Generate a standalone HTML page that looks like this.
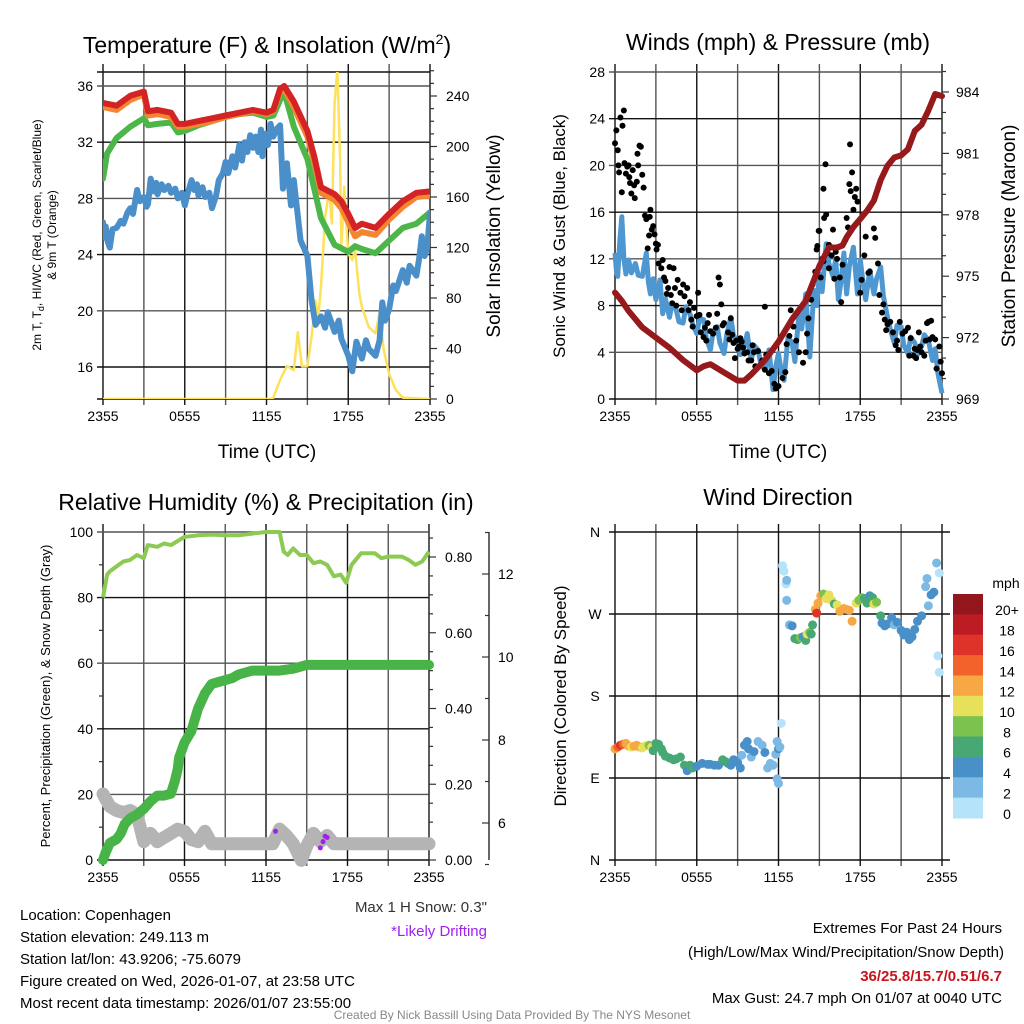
<!DOCTYPE html>
<html><head><meta charset="utf-8">
<style>
html,body{margin:0;padding:0;background:#fff;}
svg{display:block;font-family:"Liberation Sans",sans-serif;}
</style></head>
<body>
<svg id="c" width="1024" height="1024" viewBox="0 0 1024 1024" xmlns="http://www.w3.org/2000/svg">
<g font-size="23" text-anchor="middle" fill="#000">
<text x="267" y="53">Temperature (F) &amp; Insolation (W/m<tspan font-size="14" dy="-9">2</tspan><tspan dy="9">)</tspan></text>
<text x="778" y="50">Winds (mph) &amp; Pressure (mb)</text>
<text x="266" y="510">Relative Humidity (%) &amp; Precipitation (in)</text>
<text x="778" y="505">Wind Direction</text>
</g>
<g fill="#000">
<text x="267" y="458" font-size="19" text-anchor="middle">Time (UTC)</text>
<text x="778" y="458" font-size="19" text-anchor="middle">Time (UTC)</text>
<text transform="translate(41,235) rotate(-90)" font-size="12" text-anchor="middle">2m T, T<tspan font-size="9" dy="3">d</tspan><tspan dy="-3">, HI/WC (Red, Green, Scarlet/Blue)</tspan></text>
<text transform="translate(56,235) rotate(-90)" font-size="12" text-anchor="middle">&amp; 9m T (Orange)</text>
<text transform="translate(500,236) rotate(-90)" font-size="19" text-anchor="middle">Solar Insolation (Yellow)</text>
<text transform="translate(565,236) rotate(-90)" font-size="17" text-anchor="middle">Sonic Wind &amp; Gust (Blue, Black)</text>
<text transform="translate(1015,236) rotate(-90)" font-size="19" text-anchor="middle">Station Pressure (Maroon)</text>
<text transform="translate(50,696) rotate(-90)" font-size="13" text-anchor="middle">Percent, Precipitation (Green), &amp; Snow Depth (Gray)</text>
<text transform="translate(566,696) rotate(-90)" font-size="17" text-anchor="middle">Direction (Colored By Speed)</text>
</g>
<g font-size="15" fill="#000">
<text x="20" y="920">Location: Copenhagen</text>
<text x="20" y="942">Station elevation: 249.113 m</text>
<text x="20" y="964">Station lat/lon: 43.9206; -75.6079</text>
<text x="20" y="986">Figure created on Wed, 2026-01-07, at 23:58 UTC</text>
<text x="20" y="1008">Most recent data timestamp: 2026/01/07 23:55:00</text>
<text x="487" y="912" text-anchor="end" fill="#333">Max 1 H Snow: 0.3"</text>
<text x="487" y="936" text-anchor="end" fill="#a020f0">*Likely Drifting</text>
<text x="1002" y="933" text-anchor="end">Extremes For Past 24 Hours</text>
<text x="1004" y="957" text-anchor="end">(High/Low/Max Wind/Precipitation/Snow Depth)</text>
<text x="1002" y="981" text-anchor="end" fill="#c8141e" font-weight="bold">36/25.8/15.7/0.51/6.7</text>
<text x="1002" y="1003" text-anchor="end">Max Gust: 24.7 mph On 01/07 at 0040 UTC</text>
<text x="512" y="1019" text-anchor="middle" font-size="12" fill="#888">Created By Nick Bassill Using Data Provided By The NYS Mesonet</text>
</g>
</svg>
<script>
// ---------- DATA ----------
const xTickLabels = ["2355","0555","1155","1755","2355"];
// Panel 1: [hour, value]
const tempRed = [[0,34.8],[1,34.6],[2,35.3],[3,35.6],[3.3,34.2],[4,34.3],[5,34.1],[5.5,33.3],[6,33.3],[7,33.5],[8,33.7],[9,33.9],[10,34.1],[11,34.3],[12,34.1],[12.5,34.3],[13,35.8],[13.3,36.0],[14,34.9],[15,32.8],[15.5,31.0],[16,28.8],[17,28.3],[17.5,27.8],[18,26.9],[18.5,25.9],[19,26.2],[20,25.9],[21,26.9],[22,27.8],[23,28.4],[24,28.5]];
const temp9m = [[0,34.5],[1,34.3],[2,35.0],[3,35.4],[3.3,33.9],[4,34.0],[5,33.8],[5.5,33.1],[6,33.1],[7,33.3],[8,33.5],[9,33.8],[10,34.0],[11,34.2],[12,34.0],[12.5,34.2],[13,35.6],[13.3,35.8],[14,34.5],[15,32.4],[15.5,30.6],[16,28.4],[17,27.9],[17.5,27.3],[18,26.3],[18.5,25.3],[19,25.6],[20,25.4],[21,26.5],[22,27.4],[23,28.1],[24,28.2]];
const tempGreen = [[0,29.4],[0.3,31.2],[1,32.3],[2,33.1],[3,33.7],[3.3,33.2],[4,33.3],[5,33.4],[5.5,32.7],[6,32.8],[7,33.2],[8,33.5],[9,33.8],[10,34.0],[11,34.1],[12,33.8],[12.5,33.9],[13,35.0],[13.3,35.6],[14,33.1],[15,30.8],[16,26.6],[17,24.7],[18,24.2],[18.5,24.6],[19,24.4],[20,24.1],[21,25.0],[22,25.9],[23,26.2],[24,27.0]];
const tempBlue = [[0,26.3],[0.1,25.2],[0.2,26.0],[0.35,24.9],[0.5,24.5],[0.7,25.8],[1,25.9],[1.3,26.4],[1.5,26.2],[1.8,27.0],[2,27.3],[2.2,26.9],[2.5,28.6],[2.7,27.8],[3,28.1],[3.2,27.4],[3.3,27.6],[3.5,29.4],[3.7,28.5],[3.9,29.1],[4,28.3],[4.3,29.0],[4.5,28.6],[4.8,28.9],[5,28.4],[5.3,28.7],[5.5,28.0],[5.8,28.4],[6,27.5],[6.2,28.3],[6.5,29.3],[6.7,28.6],[6.9,29.0],[7,28.2],[7.3,28.8],[7.5,28.1],[7.8,28.4],[8,27.3],[8.3,28.2],[8.5,29.3],[8.8,29.8],[9,30.6],[9.2,29.8],[9.5,31.0],[9.7,30.2],[10,31.8],[10.2,30.7],[10.4,32.0],[10.6,31.3],[10.8,32.5],[11,31.6],[11.2,32.4],[11.4,31.3],[11.6,32.9],[11.7,31.0],[11.9,32.6],[12.1,31.8],[12.3,33.3],[12.5,32.4],[12.8,33.0],[13,33.2],[13.2,28.7],[13.5,30.5],[13.8,27.5],[14,29.3],[14.5,25.0],[15,23.9],[15.3,20.8],[15.6,19.0],[16,19.6],[16.3,18.8],[16.5,19.9],[17,18.5],[17.3,19.3],[17.5,18.0],[18,16.8],[18.3,15.7],[18.6,17.8],[19,16.6],[19.3,17.9],[19.5,17.3],[20,16.8],[20.3,17.9],[20.5,20.6],[20.7,19.3],[21,20.1],[21.3,21.8],[21.5,21.4],[22,22.9],[22.3,22.0],[22.5,23.2],[23,22.5],[23.2,23.7],[23.4,25.3],[23.6,23.9],[23.8,24.5],[24,27.0]];
const solar = [[0,0],[12.3,0],[12.5,1],[13,15],[13.5,26],[14,23],[14.3,53],[14.6,26],[15,26],[15.3,49],[15.6,78],[15.8,65],[16,89],[16.3,144],[16.6,165],[16.8,139],[17,234],[17.2,262],[17.4,189],[17.5,121],[17.7,168],[18,115],[18.3,110],[18.5,118],[18.8,84],[19,73],[19.5,57],[20,52],[20.3,68],[20.6,39],[21,20],[21.5,7],[22,1],[24,0]];
// Panel 2
const windSpeed = [[0,12.5],[0.1,11.0],[0.2,10.5],[0.35,13.5],[0.5,15.6],[0.65,12.0],[0.8,10.7],[1,11.9],[1.2,10.8],[1.5,11.6],[1.7,10.6],[2,10.5],[2.3,12.5],[2.45,10.0],[2.6,9.0],[2.8,10.3],[3,8.5],[3.3,10.2],[3.5,7.3],[3.7,8.6],[4,7.0],[4.2,8.2],[4.5,7.6],[4.7,6.6],[5,6.5],[5.2,7.9],[5.5,7.3],[5.7,6.4],[6,5.6],[6.2,6.9],[6.5,6.8],[6.7,5.2],[7,4.2],[7.2,5.8],[7.5,6.2],[7.7,4.8],[8,3.9],[8.2,5.5],[8.5,7.0],[8.7,5.4],[9,5.0],[9.2,3.8],[9.5,4.5],[9.7,5.6],[10,3.3],[10.2,4.6],[10.5,4.2],[10.7,3.0],[11,2.5],[11.3,4.2],[11.6,0.8],[11.8,2.8],[12,3.9],[12.2,2.4],[12.4,1.6],[12.7,5.3],[13,4.8],[13.2,3.2],[13.5,7.3],[13.7,6.0],[14,9.0],[14.3,3.6],[14.6,9.3],[14.8,8.0],[15,10.7],[15.2,9.2],[15.5,13.3],[15.7,11.6],[16,10.5],[16.2,12.0],[16.4,8.5],[16.6,10.2],[16.8,12.5],[17,9.0],[17.2,11.4],[17.5,13.0],[17.8,9.0],[18,11.9],[18.2,10.0],[18.4,8.5],[18.7,11.0],[19,9.0],[19.2,10.3],[19.5,11.3],[19.7,8.8],[20,7.0],[20.2,6.0],[20.5,4.8],[20.7,6.3],[21,6.2],[21.2,4.6],[21.5,3.9],[21.7,5.3],[22,4.8],[22.2,3.8],[22.5,4.5],[22.7,5.5],[23,5.0],[23.3,3.3],[23.5,4.3],[23.7,2.2],[24,0.5]];
const windGust = [[0,21.9],[0.1,23.0],[0.2,21.3],[0.25,20.0],[0.3,19.4],[0.4,24.1],[0.5,17.7],[0.55,23.4],[0.65,24.7],[0.7,20.2],[0.8,19.3],[0.9,19.9],[1.0,20.0],[1.05,19.0],[1.1,18.5],[1.2,17.6],[1.3,19.6],[1.4,18.3],[1.45,17.2],[1.6,18.6],[1.65,21.0],[1.7,20.0],[1.8,21.7],[1.9,21.6],[2.0,19.2],[2.1,18.1],[2.2,15.7],[2.3,15.4],[2.4,12.9],[2.5,14.0],[2.55,15.6],[2.6,16.2],[2.7,14.5],[2.8,14.8],[2.9,14.1],[3.0,13.3],[3.05,12.8],[3.15,13.2],[3.2,11.6],[3.4,11.2],[3.5,11.9],[3.6,10.4],[3.7,10.1],[3.8,9.0],[3.9,9.5],[4.0,11.3],[4.1,8.9],[4.2,8.2],[4.3,11.2],[4.4,9.5],[4.5,8.0],[4.6,10.2],[4.8,9.1],[4.9,7.6],[5.0,9.8],[5.1,8.8],[5.3,9.5],[5.4,7.6],[5.5,8.3],[5.6,6.8],[5.7,6.2],[5.8,7.8],[6.0,7.1],[6.1,9.1],[6.2,7.2],[6.3,5.7],[6.5,5.3],[6.6,6.1],[6.7,5.0],[6.8,6.5],[6.9,7.2],[7.0,5.8],[7.2,5.6],[7.4,6.1],[7.5,7.3],[7.6,10.4],[7.7,9.8],[7.8,8.1],[7.9,6.3],[8.0,6.5],[8.3,5.7],[8.4,5.1],[8.5,6.9],[8.6,5.5],[8.7,4.8],[8.8,3.5],[8.9,5.0],[9.0,4.3],[9.1,4.5],[9.2,5.2],[9.3,4.9],[9.4,4.4],[9.5,3.9],[9.7,4.0],[9.8,3.3],[10.0,3.3],[10.1,4.6],[10.2,4.0],[10.3,2.8],[10.5,4.1],[10.8,3.3],[11.0,7.9],[11.0,2.5],[11.1,3.8],[11.3,2.2],[11.5,2.4],[11.7,1.3],[11.8,0.9],[12.0,1.1],[12.3,1.8],[12.5,2.3],[12.6,4.7],[12.8,5.4],[12.9,7.6],[13.1,6.2],[13.3,5.0],[13.5,4.0],[13.8,3.1],[14.0,4.0],[14.1,5.6],[14.2,6.9],[14.4,8.5],[14.5,9.8],[14.7,10.9],[14.8,12.8],[14.85,13.1],[14.95,14.4],[15.0,14.4],[15.1,10.4],[15.2,12.0],[15.3,11.8],[15.3,18.0],[15.35,15.5],[15.45,20.1],[15.5,15.8],[15.6,12.5],[15.7,11.2],[15.7,13.2],[15.8,13.0],[15.9,12.3],[16.0,14.5],[16.1,10.3],[16.2,12.6],[16.3,12.0],[16.5,10.4],[16.6,8.3],[16.7,11.5],[16.9,13.6],[17.0,15.5],[17.1,14.7],[17.2,18.4],[17.25,21.8],[17.3,17.8],[17.4,19.4],[17.5,16.2],[17.6,17.3],[17.7,18.0],[17.8,16.9],[18.0,9.1],[18.1,10.2],[18.3,12.3],[18.4,13.9],[18.6,10.8],[18.7,10.9],[19.0,14.6],[19.1,13.8],[19.3,11.6],[19.4,8.9],[19.6,7.4],[19.7,8.1],[19.8,6.8],[19.9,5.9],[20.0,6.4],[20.2,6.6],[20.4,5.7],[20.6,4.6],[20.7,5.0],[20.8,4.2],[20.9,6.6],[21.1,5.6],[21.3,5.8],[21.5,6.1],[21.6,3.7],[21.7,5.2],[21.9,3.7],[22.0,4.3],[22.1,3.5],[22.2,4.2],[22.3,5.7],[22.4,4.5],[22.5,4.0],[22.7,3.7],[22.8,5.0],[22.9,6.5],[23.0,6.6],[23.1,5.1],[23.2,6.7],[23.3,5.3],[23.5,5.1],[23.6,2.6],[23.8,4.5],[23.9,3.2],[24.0,2.2]];
const pressure = [[0,974.2],[0.5,973.8],[1,973.3],[2,972.5],[3,972.0],[4,971.5],[5,970.9],[6,970.4],[6.5,970.6],[7,970.7],[8,970.3],[9,969.9],[9.5,969.9],[10,970.2],[11,970.9],[12,971.8],[13,972.9],[14,973.8],[15,975.5],[15.7,976.4],[16.3,976.4],[16.7,976.5],[17,976.9],[17.5,977.4],[18,977.8],[18.5,978.2],[19,978.7],[19.5,979.7],[20,980.4],[20.5,980.8],[21,980.9],[21.5,981.2],[22,982.1],[22.5,982.4],[23,983.1],[23.5,983.9],[24,983.8]];
// Panel 3
const relHum = [[0,80],[0.3,87],[0.5,88],[1,89.5],[1.5,91],[2,91.5],[2.5,93],[3,92],[3.3,96],[4,95.5],[4.5,96.5],[5,96],[6,98.5],[7,99],[8,99.2],[9,99],[10,99],[11,99.5],[12,100],[13,100],[13.3,94],[13.6,93],[14,95],[14.5,93],[15,93],[15.5,90.5],[16,91],[16.5,90],[17,86.5],[17.5,87],[17.9,84.5],[18.3,90],[19,93.5],[20,93.5],[20.5,92],[21,92.5],[22,92.5],[22.5,91.5],[23,90],[23.5,91],[24,94]];
const precip = [[0,0.00],[0.2,0.02],[0.5,0.045],[1,0.055],[1.3,0.07],[1.6,0.095],[2,0.11],[2.5,0.12],[3,0.135],[3.5,0.155],[4,0.17],[4.5,0.17],[5,0.175],[5.3,0.21],[5.5,0.24],[5.6,0.27],[6,0.31],[6.5,0.34],[7,0.40],[7.5,0.44],[8,0.465],[8.5,0.47],[9,0.475],[9.5,0.48],[10,0.49],[11,0.50],[12,0.50],[13,0.50],[14,0.505],[15,0.515],[16,0.515],[24,0.515]];
const snowDepth = [[0,6.7],[0.5,6.4],[1,6.3],[1.5,6.25],[2,6.3],[2.5,6.2],[3,5.55],[3.5,5.75],[4,5.55],[4.5,5.65],[5,5.75],[5.5,5.85],[6,5.8],[6.5,5.6],[7,5.55],[7.5,5.8],[8,5.5],[9,5.5],[10,5.5],[12.5,5.5],[13,5.85],[13.5,5.7],[14,5.5],[14.6,5.1],[15,5.45],[15.5,5.75],[16,5.55],[16.5,5.7],[17,5.5],[24,5.5]];
const drifting = [[12.7,5.8],[16.0,5.4],[16.2,5.55],[16.35,5.68],[16.5,5.65]];
// Panel 4: [hour, direction deg, speed mph]
const windDir = [[0,122,12],[0.2,124,14],[0.4,126,16],[0.6,127,14],[0.8,128,12],[1.0,125,12],[1.2,124,11],[1.4,125,12],[1.6,126,12],[1.8,124,12],[2.0,123,11],[2.2,125,10],[2.5,126,8],[2.7,124,10],[2.8,120,7],[3.0,128,6],[3.2,127,6],[3.4,122,6],[3.5,118,6],[3.7,114,6],[4.0,112,6],[4.3,110,6],[4.5,111,6],[4.8,113,6],[5.1,104,6],[5.3,98,4],[5.5,104,6],[5.7,101,6],[6.0,103,4],[6.4,106,4],[6.8,105,4],[7.0,105,4],[7.3,104,4],[7.6,104,4],[7.9,110,6],[8.1,108,6],[8.3,106,6],[8.5,104,4],[8.7,110,4],[9.0,107,4],[9.2,101,4],[9.3,115,2],[9.5,126,4],[9.7,130,4],[9.8,122,4],[10.0,113,2],[10.2,119,4],[10.5,130,2],[10.8,126,2],[11.0,118,4],[11.2,101,2],[11.4,106,2],[11.6,104,2],[11.8,116,2],[11.9,130,2],[12.0,122,4],[11.9,89,2],[12.0,84,2],[12.1,124,2],[12.2,150,0],[12.3,323,0],[12.4,317,0],[12.55,303,0],[12.6,307,2],[12.6,285,2],[12.8,258,2],[13.0,257,4],[13.2,243,6],[13.4,242,6],[13.6,244,8],[13.8,245,4],[14.0,241,6],[14.1,248,10],[14.3,250,8],[14.4,248,6],[14.5,258,6],[14.7,275,12],[14.8,271,16],[14.9,282,12],[15.1,290,12],[15.3,292,8],[15.5,287,10],[15.7,291,10],[15.9,285,10],[16.1,281,6],[16.3,280,10],[16.5,273,12],[16.8,276,12],[17.0,275,12],[17.2,274,12],[17.4,262,12],[17.7,282,10],[17.9,285,8],[18.1,288,8],[18.3,287,6],[18.5,282,6],[18.7,290,4],[18.9,288,6],[19.0,281,10],[19.2,283,8],[19.5,268,6],[19.6,260,4],[19.8,257,4],[20.0,259,4],[20.3,266,4],[20.5,258,2],[20.7,261,4],[21.0,252,4],[21.2,247,4],[21.4,250,4],[21.6,242,4],[21.8,245,4],[22.0,253,4],[22.2,262,4],[22.5,268,4],[22.8,300,2],[22.9,309,2],[23.0,279,2],[23.2,291,4],[23.4,294,4],[23.6,326,2],[23.8,315,0],[23.7,224,0],[23.8,206,0]];
const speedLabels = ["0","2","4","6","8","10","12","14","16","18","20+"];
const speedColors = ["#b5e3f9","#7db9e5","#4a90c8","#48a874","#7cc24e","#e6e05a","#f7a845","#f1632a","#de3328","#bd1c24","#92161b"];

// ---------- DRAW ----------
const NS="http://www.w3.org/2000/svg";
const svg=document.getElementById('c');
function mk(tag,attrs,parent){const e=document.createElementNS(NS,tag);for(const k in attrs)e.setAttribute(k,attrs[k]);(parent||svg).appendChild(e);return e;}
function lin(d0,d1,r0,r1){return v=>r0+(v-d0)*(r1-r0)/(d1-d0);}
function pathOf(data,sx,sy){return data.map((p,i)=>(i?'L':'M')+sx(p[0]).toFixed(1)+' '+sy(p[1]).toFixed(1)).join(' ');}

function frame(g,L,R,T,B,xTicks){
  for(let h=0;h<=24;h+=3){
    const x=L+(R-L)*h/24;
    const ln=mk('line',{x1:x,x2:x,y1:T-8,y2:B+6,stroke:(h%6==0)?'#111':'#555','stroke-width':1.4},g);
    
    
  }
  if(xTicks){
    xTickLabels.forEach((t,i)=>{
      const tx=mk('text',{x:L+(R-L)*i/4,y:B+22,'font-size':14,'text-anchor':'middle'},g);
      tx.textContent=t;
      
      
    });
  }
}
function hgrid(g,L,R,y,dark){const ln=mk('line',{x1:L-6,x2:R,y1:y,y2:y,stroke:dark?'#111':'#555','stroke-width':1.4},g);
  
  }
function ylabel(g,x,y,t,anchor,fs){const tx=mk('text',{x:x,y:y+5,'font-size':fs||14,'text-anchor':anchor},g);tx.textContent=t;
  
  }
function tick(g,x1,x2,y){mk('line',{x1:x1,x2:x2,y1:y,y2:y,stroke:'#333','stroke-width':1.2},g);}

// Panel 1
{
  const g=mk('g',{});
  
  
  const L=103,R=430,T=72,B=399;
  const sx=lin(0,24,L,R), sy=lin(36,16,86,367), sr=lin(0,240,399,96);
  frame(g,L,R,T,B,true);
  [16,20,24,28,32,36].forEach(v=>{hgrid(g,L,R,sy(v),v%8==0);ylabel(g,L-10,sy(v),String(v),'end');});
  hgrid(g,L,R,T,true);hgrid(g,L,R,B,true);
  mk('line',{x1:R,x2:R,y1:T,y2:B,stroke:'#333','stroke-width':1.2},g);
  for(let v=0;v<=260;v+=10){tick(g,R,R+(v%40==0?7:4),sr(v));}
  [0,40,80,120,160,200,240].forEach(v=>ylabel(g,R+16,sr(v),String(v),'start'));
  const cp=mk('clipPath',{id:'cp1'},g);mk('rect',{x:L,y:T,width:R-L,height:B-T},cp);
  const s=[[solar,'#fde15a',2.5,sr,'solar-line'],[tempGreen,'#4cb648',6,sy,'windchill-line'],[temp9m,'#f48531',6,sy,'temp-9m-line'],[tempRed,'#d42325',6,sy,'temp-2m-line'],[tempBlue,'#4a8fc9',6,sy,'dewpoint-line']];
  s.forEach(([d,c,w,yy,n])=>{const p=mk('path',{d:pathOf(d,sx,yy),fill:'none',stroke:c,'stroke-width':w,'stroke-linejoin':'round','stroke-linecap':'round','clip-path':'url(#cp1)'},g);
    
    });
}
// Panel 2
{
  const g=mk('g',{});
  
  
  const L=615,R=942,T=72,B=399;
  const sx=lin(0,24,L,R), sy=lin(0,28,B,T), sp=lin(969,984,399,92);
  frame(g,L,R,T,B,true);
  for(let v=0;v<=28;v+=4){hgrid(g,L,R,sy(v),v%8==0);ylabel(g,L-10,sy(v),String(v),'end');}
  mk('line',{x1:R,x2:R,y1:T,y2:B,stroke:'#333','stroke-width':1.2},g);
  for(let v=969;v<=985;v++){tick(g,R,R+((v-969)%3==0?7:4),sp(v));}
  [969,972,975,978,981,984].forEach(v=>ylabel(g,R+14,sp(v),String(v),'start'));
  const p1=mk('path',{d:pathOf(windSpeed,sx,sy),fill:'none',stroke:'#4f97d0','stroke-width':5,'stroke-linejoin':'round'},g);
  
  
  windGust.forEach(p=>{const c=mk('circle',{cx:sx(p[0]),cy:sy(p[1]),r:3,fill:'#000'},g);
    
    });
  const p2=mk('path',{d:pathOf(pressure,sx,sp),fill:'none',stroke:'#961a1c','stroke-width':6,'stroke-linejoin':'round','stroke-linecap':'round'},g);
  
  
}
// Panel 3
{
  const g=mk('g',{});
  
  
  const L=103,R=429,T=532,B=860;
  const sx=lin(0,24,L,R), sy=lin(0,100,B,T), sp=lin(0,0.8,B,557), ss=lin(6,12,823,574);
  frame(g,L,R,T,B,true);
  for(let v=0;v<=100;v+=20){hgrid(g,L,R,sy(v),v%40==0);ylabel(g,L-10,sy(v),String(v),'end');}
  for(let v=10;v<100;v+=20)tick(g,L-4,L,sy(v));
  mk('line',{x1:R,x2:R,y1:T,y2:B,stroke:'#333','stroke-width':1.2},g);
  for(let v=0;v<=0.86;v+=0.05){const k=Math.round(v*100);tick(g,R,R+(k%20==0?7:4),sp(v));}
  [0,0.2,0.4,0.6,0.8].forEach(v=>ylabel(g,R+16,sp(v),v.toFixed(2),'start'));
  mk('line',{x1:489,x2:489,y1:T,y2:B,stroke:'#333','stroke-width':1.5},g);
  for(let v=5;v<=13;v++){tick(g,489,489-(v%2==0?7:4),ss(v));}
  [6,8,10,12].forEach(v=>ylabel(g,498,ss(v),String(v),'start'));
  const p3=mk('path',{d:pathOf(snowDepth,sx,ss),fill:'none',stroke:'#b4b4b4','stroke-width':13,'stroke-linejoin':'round','stroke-linecap':'round'},g);
  
  
  const p2=mk('path',{d:pathOf(precip,sx,sp),fill:'none',stroke:'#48b447','stroke-width':10,'stroke-linejoin':'round','stroke-linecap':'round'},g);
  
  
  const p1=mk('path',{d:pathOf(relHum,sx,sy),fill:'none',stroke:'#8cca54','stroke-width':4,'stroke-linejoin':'round'},g);
  
  
  drifting.forEach(p=>{const c=mk('circle',{cx:sx(p[0]),cy:ss(p[1]),r:2.5,fill:'#a020f0'},g);
    
    });
}
// Panel 4
{
  const g=mk('g',{});
  
  
  const L=615,R=942,T=532,B=860;
  const sx=lin(0,24,L,R), sy=lin(0,360,B,T);
  frame(g,L,R,T,B,true);
  const dl=['N','E','S','W','N'];
  for(let i=0;i<=4;i++){hgrid(g,L,R+8,sy(i*90),true);ylabel(g,L-20,sy(i*90),dl[i],'middle');}
  windDir.forEach(p=>{const idx=Math.min(10,Math.floor(p[2]/2));
    const c=mk('circle',{cx:sx(p[0]),cy:sy(p[1]),r:4.5,fill:speedColors[idx]},g);
    
    });
  const cb=mk('g',{},g);
  
  
  const u=mk('text',{x:1006,y:588,'font-size':14,'text-anchor':'middle'},cb);u.textContent='mph';
  
  
  const h=(818-594)/11;
  for(let i=0;i<11;i++){const j=10-i;const y=594+i*h;
    const r=mk('rect',{x:953,y:y,width:30,height:h+0.5,fill:speedColors[j]},cb);
    
    
    const t=mk('text',{x:1007,y:y+h/2+11,'font-size':14,'text-anchor':'middle'},cb);t.textContent=speedLabels[j];
    
    }
}
</script>
</body></html>
